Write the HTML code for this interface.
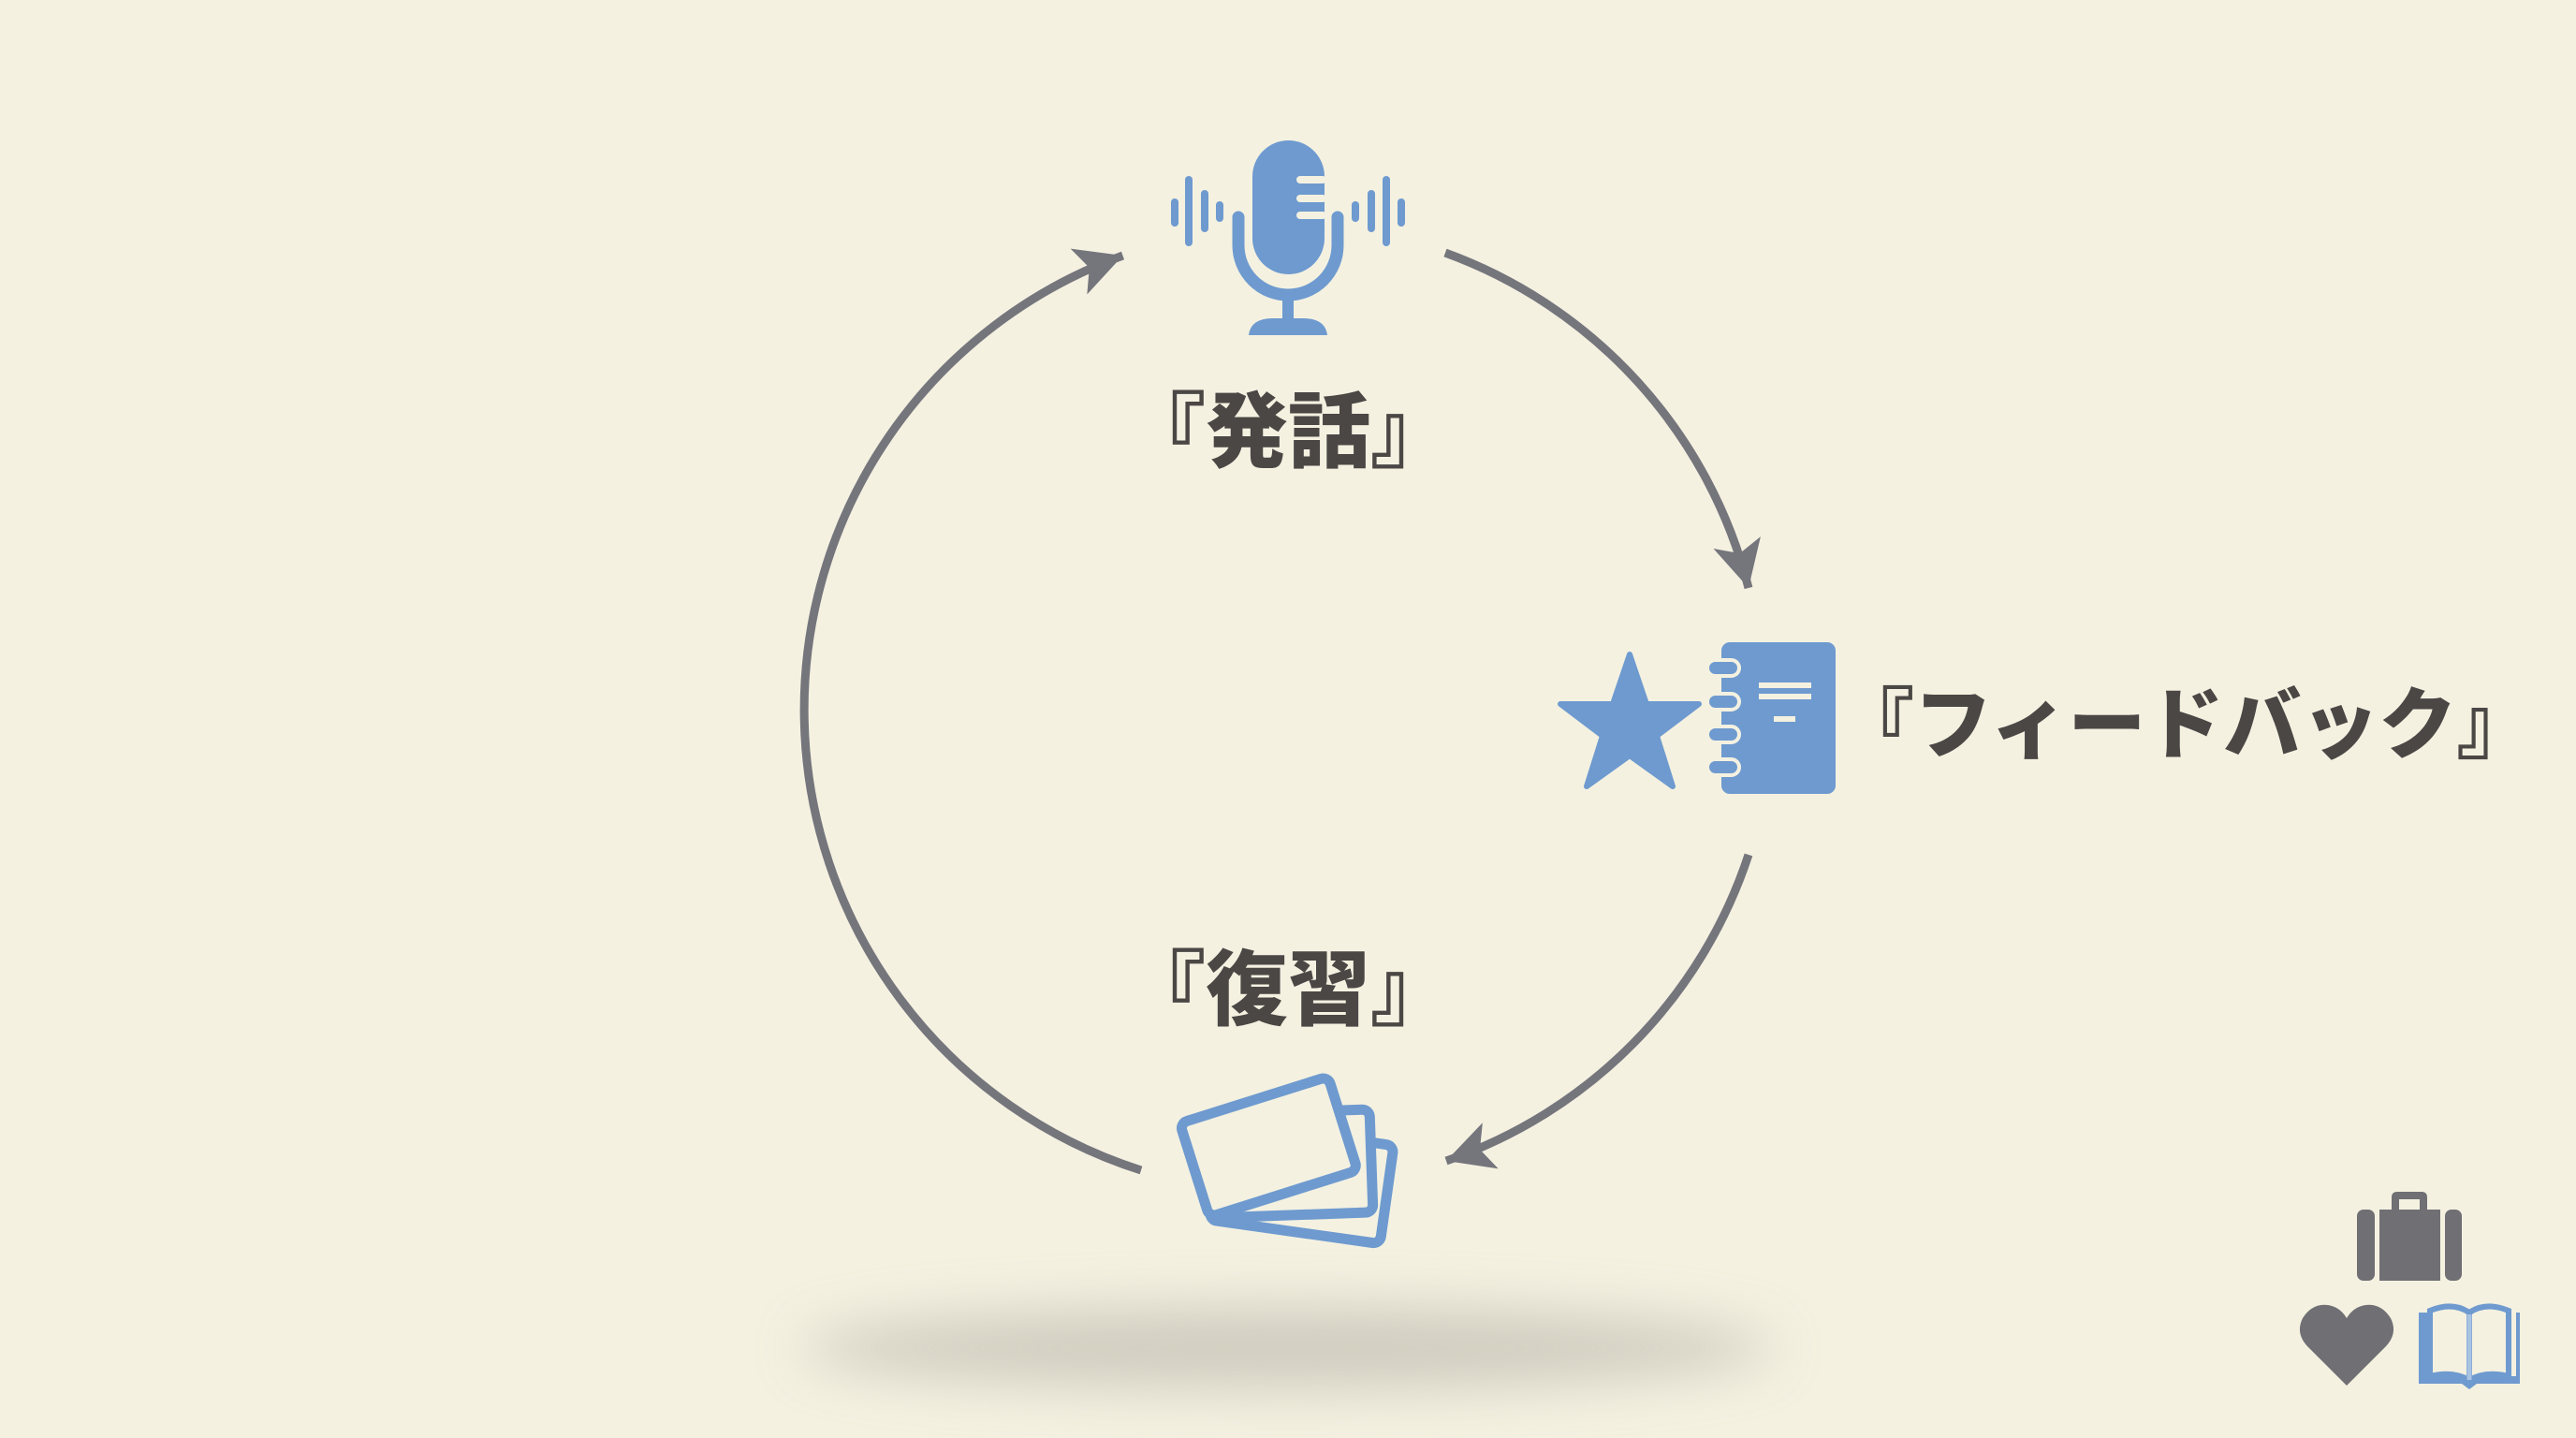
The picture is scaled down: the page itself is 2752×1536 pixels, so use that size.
<!DOCTYPE html>
<html><head><meta charset="utf-8"><style>
html,body{margin:0;padding:0}
body{width:2752px;height:1536px;overflow:hidden;background:#f4f1e1;position:relative;font-family:"Liberation Sans","Noto Sans CJK JP",sans-serif}
.t{position:absolute;font-family:"Noto Sans CJK JP","Liberation Sans",sans-serif;font-weight:900;color:#4a4745;white-space:nowrap;line-height:1}
</style></head><body>
<svg width="2752" height="1536" viewBox="0 0 2752 1536" style="position:absolute;left:0;top:0">
<defs>
<filter id="bl" x="-50%" y="-300%" width="200%" height="700%"><feGaussianBlur stdDeviation="28"/></filter>
<marker id="ah" markerUnits="userSpaceOnUse" markerWidth="70" markerHeight="70" refX="50" refY="30" orient="auto">
<path d="M50 30 L0 4 L12 30 L0 56 Z" fill="#75757c"/>
</marker>
</defs>
<ellipse cx="1376" cy="1440" rx="520" ry="45" fill="#b9b6aa" opacity="0.6" filter="url(#bl)"/>
<g fill="none" stroke="#75757c" stroke-width="9">
<path d="M1219 1250 A516 516 0 0 1 1199.5 273" marker-end="url(#ah)"/>
<path d="M1544 270 A516 516 0 0 1 1868 628" marker-end="url(#ah)"/>
<path d="M1868 913 A516 516 0 0 1 1545 1240" marker-end="url(#ah)"/>
</g>
<!-- mic -->
<g fill="#6e9acf">
<rect x="1338" y="150" width="77" height="143" rx="38.5"/>
<path d="M1323 232 V262 A53 53 0 0 0 1429 262 V232" fill="none" stroke="#6e9acf" stroke-width="13" stroke-linecap="round"/>
<rect x="1370" y="310" width="12" height="35"/>
<path d="M1334 358 Q1336 340 1360 340 H1392 Q1416 340 1418 358 Z"/>
<rect x="1251" y="212" width="8" height="30" rx="4"/>
<rect x="1266" y="188" width="8" height="75" rx="4"/>
<rect x="1283" y="203" width="8" height="45" rx="4"/>
<rect x="1299" y="215" width="8" height="22" rx="4"/>
<rect x="1444" y="215" width="8" height="22" rx="4"/>
<rect x="1461" y="203" width="8" height="45" rx="4"/>
<rect x="1477" y="188" width="8" height="75" rx="4"/>
<rect x="1493" y="212" width="8" height="30" rx="4"/>
</g>
<g fill="#f4f1e1">
<rect x="1385" y="188" width="32" height="8" rx="4"/>
<rect x="1385" y="208" width="32" height="8" rx="4"/>
<rect x="1385" y="226" width="32" height="8" rx="4"/>
</g>
<!-- star -->
<polygon fill="#6e9acf" stroke="#6e9acf" stroke-width="6" stroke-linejoin="round" points="1741,699 1759,752 1815,752 1770,786 1787,840 1741,807 1695,840 1712,786 1667,752 1723,752"/>
<!-- notebook -->
<rect x="1839" y="686" width="122" height="162" rx="9" fill="#6e9acf"/>
<g fill="#6e9acf" stroke="#f4f1e1" stroke-width="4">
<rect x="1824" y="705" width="34" height="17" rx="8.5"/>
<rect x="1824" y="741" width="34" height="17" rx="8.5"/>
<rect x="1824" y="776" width="34" height="17" rx="8.5"/>
<rect x="1824" y="811" width="34" height="17" rx="8.5"/>
</g>
<g fill="#f4f1e1">
<rect x="1879" y="729" width="56" height="6"/>
<rect x="1879" y="741" width="56" height="6"/>
<rect x="1895" y="765" width="23" height="6"/>
</g>
<!-- cards -->
<g fill="#f4f1e1" stroke="#6e9acf" stroke-width="11" stroke-linejoin="round">
<g transform="translate(1292,1303) rotate(8)"><rect x="0" y="-106" width="184" height="106" rx="8"/></g>
<g transform="translate(1292,1301) rotate(-2)"><rect x="0" y="-110" width="175" height="110" rx="8"/></g>
<g transform="translate(1292,1300) rotate(-17.5)"><rect x="0" y="-105" width="166" height="105" rx="8"/></g>
</g>
<!-- briefcase -->
<g fill="#6f6f74">
<path d="M2555 1292 V1279 Q2555 1273 2561 1273 H2587 Q2593 1273 2593 1279 V1292 H2585 V1281 H2563 V1292 Z"/>
<rect x="2518" y="1292" width="19" height="76" rx="7"/>
<rect x="2542" y="1292" width="65" height="76"/>
<rect x="2612" y="1292" width="18" height="76" rx="7"/>
</g>
<path fill="#6f6f74" d="M2507 1480 L2465 1438 Q2452 1424 2460 1408 Q2470 1392 2487 1394 Q2500 1396 2507 1408 Q2514 1396 2527 1394 Q2544 1392 2554 1408 Q2562 1424 2549 1438 Z"/>
<!-- book -->
<g>
<path d="M2584 1402 H2596 V1470 H2688 V1402 H2692 V1478 H2646 L2638 1484 L2630 1478 H2584 Z" fill="#6e9acf"/>
<path d="M2596 1400 Q2620 1390 2638 1402 V1474 Q2620 1464 2596 1470 Z" fill="#f4f1e1" stroke="#6e9acf" stroke-width="6"/>
<path d="M2680 1400 Q2656 1390 2638 1402 V1474 Q2656 1464 2680 1470 Z" fill="#f4f1e1" stroke="#6e9acf" stroke-width="6"/>
<path d="M2638 1404 V1474" stroke="#a9c3e2" stroke-width="5"/>
</g>
</svg>
<div class="t" style="left:1200px;top:411px;font-size:88px;width:352px;text-align:center">『発話』</div>
<div class="t" style="left:1200px;top:1007px;font-size:88px;width:352px;text-align:center">『復習』</div>
<div class="t" style="left:1962px;top:726px;font-size:83px;letter-spacing:0px">『フィードバック』</div>
</body></html>
